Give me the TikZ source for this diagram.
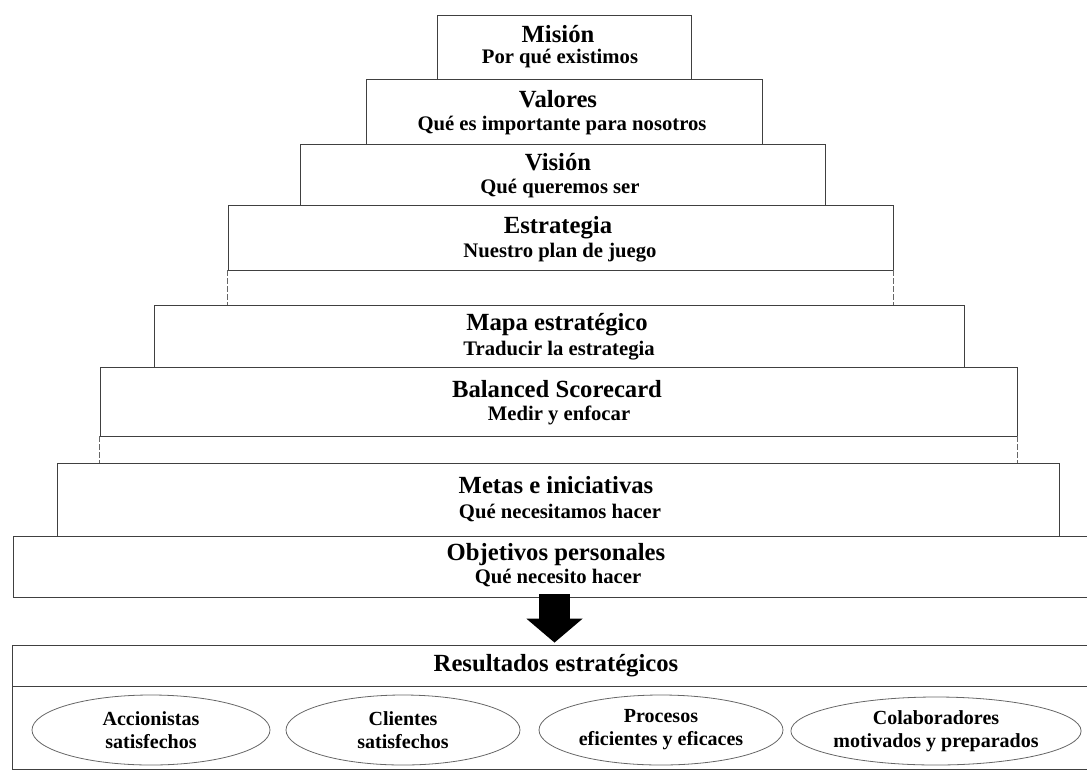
\documentclass[tikz,border=0pt]{standalone}
\usepackage{fontspec}
\setmainfont{Liberation Serif}
\usetikzlibrary{shapes.geometric,arrows.meta}

\tikzset{every picture/.style={line width=0.6pt}}
\tikzset{
  lvl/.style={draw=black!75, rectangle, inner sep=0pt},
  ttl/.style={anchor=base, inner sep=0.75pt, font=\fontsize{18.5}{20}\selectfont\bfseries},
  sub/.style={anchor=base, inner sep=0.75pt, font=\fontsize{15.5}{18}\selectfont\bfseries},
  goal/.style={draw=black!60, ellipse, inner sep=0pt, align=center, font=\fontsize{15}{17.25}\selectfont\bfseries},
  ext/.style={draw=black!60, dash pattern={on 4pt off 2pt}},
  bigarrow/.style={line width=23.25pt, -{Triangle[length=18pt,width=41.25pt]}}
}

\begin{document}
\begin{tikzpicture}[x=0.75pt,y=0.75pt,yscale=-1,xscale=1]
            \useasboundingbox (0,0) rectangle (1087,771);

            % Pyramid levels
            \node [lvl, minimum width=190.5pt, minimum height=48pt] (mision) at (564,47) {};
            \node [lvl, minimum width=297pt, minimum height=48.75pt] (valores) at (564,111.5) {};
            \node [lvl, minimum width=393.75pt, minimum height=45.75pt] (vision) at (562.5,174.5) {};
            \node [lvl, minimum width=498.75pt, minimum height=48.75pt] (estrategia) at (560.5,237.5) {};
            \node [lvl, minimum width=607.5pt, minimum height=46.5pt] (mapa) at (559,336) {};
            \node [lvl, minimum width=687.75pt, minimum height=51.75pt] (balanced) at (558.5,401.5) {};
            \node [lvl, minimum width=751.5pt, minimum height=54.75pt] (metas) at (558,499.5) {};
            \node [lvl, minimum width=812.25pt, minimum height=45.75pt] (objetivos) at (554.5,566.5) {};

            % Dashed side extensions
            \draw [ext] (estrategia.south west) -- (estrategia.south west |- mapa.north);
            \draw [ext] (estrategia.south east) -- (estrategia.south east |- mapa.north);
            \draw [ext] (balanced.south west) -- (balanced.south west |- metas.north);
            \draw [ext] (balanced.south east) -- (balanced.south east |- metas.north);

            % Text Nodes
            \node [ttl] (misionT) at (558,42) {Misión};
            \node [sub] (misionS) at (560,63) {Por qué existimos};
            \node [ttl] (valoresT) at (558,107) {Valores};
            \node [sub] (valoresS) at (562,130) {Qué es importante para nosotros};
            \node [ttl] (visionT) at (558,170) {Visión};
            \node [sub] (visionS) at (560,193) {Qué queremos ser};
            \node [ttl] (estrategiaT) at (558,233) {Estrategia};
            \node [sub] (estrategiaS) at (560,257) {Nuestro plan de juego};
            \node [ttl] (mapaT) at (557,330) {Mapa estratégico};
            \node [sub] (mapaS) at (559,355) {Traducir la estrategia};
            \node [ttl] (balancedT) at (557,397) {Balanced Scorecard};
            \node [sub] (balancedS) at (559,420) {Medir y enfocar};
            \node [ttl] (metasT) at (556,493) {Metas e iniciativas};
            \node [sub] (metasS) at (560,518) {Qué necesitamos hacer};
            \node [ttl] (objetivosT) at (556,560) {Objetivos personales};
            \node [sub] (objetivosS) at (558,583) {Qué necesito hacer};

            % Results
            \node [lvl, minimum width=813.75pt, minimum height=30.75pt] (res) at (554.5,665.5) {};
            \node [lvl, minimum width=813.75pt, minimum height=62.25pt] (resbody) at (554.5,727.5) {};
            \node [ttl] (resT) at (556,671) {Resultados estratégicos};

            \draw [bigarrow] ([yshift=-2.25pt]objetivos.south) -- ([yshift=-1.5pt]res.north);

            % Ellipses
            \node [goal, minimum width=178.5pt, minimum height=52.5pt] (accionistas) at (151,730) {Accionistas\\satisfechos};
            \node [goal, minimum width=175.5pt, minimum height=52.5pt] (clientes) at (403,730) {Clientes\\satisfechos};
            \node [goal, minimum width=183pt, minimum height=52.5pt] (procesos) at (661,730) {Procesos\\eficientes y eficaces};
            \node [goal, minimum width=208.5pt, minimum height=51pt] (colaboradores) at (936,731) {Colaboradores\\motivados y preparados};
\end{tikzpicture}
\end{document}
